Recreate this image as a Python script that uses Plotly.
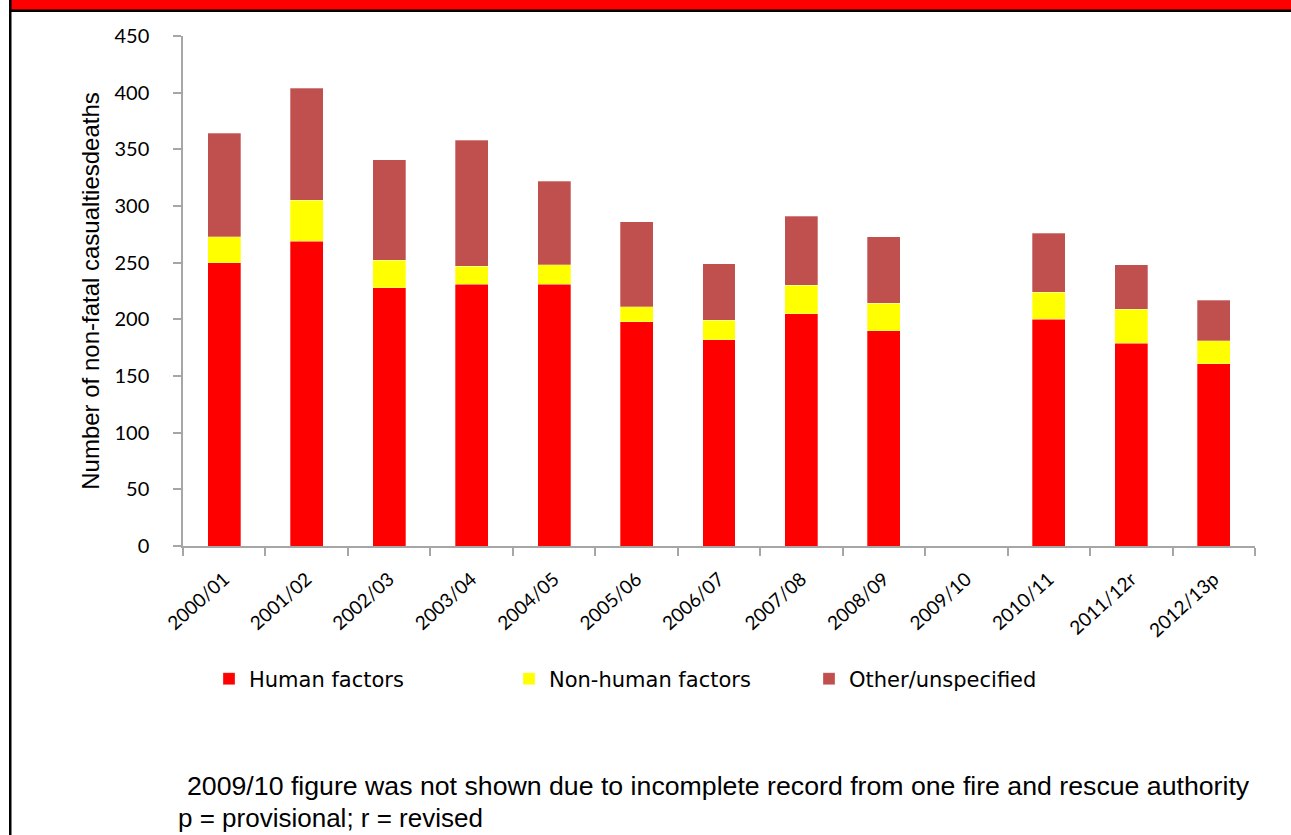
import plotly.graph_objects as go

categories = ["2000/01", "2001/02", "2002/03", "2003/04", "2004/05", "2005/06",
              "2006/07", "2007/08", "2008/09", "2009/10", "2010/11", "2011/12r", "2012/13p"]
human = [250, 269, 228, 231, 231, 198, 182, 205, 190, None, 200, 179, 161]
non_human = [23, 36, 24, 16, 17, 13, 17, 25, 24, None, 24, 30, 20]
other = [91, 99, 89, 111, 74, 75, 50, 61, 59, None, 52, 39, 36]

series_names = ["Human factors", "Non-human factors", "Other/unspecified"]
series_colors = ["#FF0000", "#FFFF00", "#C0504D"]
y_ticks = [0, 50, 100, 150, 200, 250, 300, 350, 400, 450]

W, H = 1291, 835
L, R, T, B = 183, 1255, 36, 546


def px_x(px):
    return (px - L) / (R - L)


def px_y(py):
    return (B - py) / (B - T)


fig = go.Figure()
for name, vals, col in zip(series_names, [human, non_human, other], series_colors):
    fig.add_trace(go.Bar(
        x=categories, y=vals, name=name,
        marker=dict(color=col, line=dict(color="rgba(255,255,255,0.5)", width=0.6)),
    ))

fig.update_layout(
    width=W, height=H,
    barmode="stack", bargap=0.6,
    paper_bgcolor="white", plot_bgcolor="white",
    margin=dict(l=L, r=W - R, t=T, b=H - B, autoexpand=False),
    showlegend=True,
    legend=dict(
        orientation="h", x=px_x(209), xanchor="left", y=px_y(679), yanchor="middle",
        font=dict(family="DejaVu Sans, Liberation Sans, Arial", size=21, color="black"),
        entrywidth=255, entrywidthmode="pixels", itemwidth=30,
        traceorder="normal",
    ),
    xaxis=dict(
        type="category", showgrid=False, showline=True, linecolor="#A6A6A6", linewidth=1.5,
        ticks="outside", tickson="boundaries", ticklen=8, tickcolor="#A6A6A6", tickwidth=1.5,
        ticklabelstandoff=13,
        tickangle=-42, tickfont=dict(family="Lato, Open Sans", size=19, color="black"),
        range=[-0.5, len(categories) - 0.5],
    ),
    yaxis=dict(
        range=[0, 450], tickvals=y_ticks, showgrid=False, zeroline=False,
        showline=True, linecolor="#A6A6A6", linewidth=1.5,
        ticks="outside", ticklen=8, tickcolor="#A6A6A6", tickwidth=1.5,
        ticklabelstandoff=20,
        tickfont=dict(family="Lato, Open Sans", size=20, color="black"),
        title=dict(text="Number of non-fatal casualtiesdeaths",
                   font=dict(family="Liberation Sans Narrow, Liberation Sans, Arial", size=24, color="black"),
                   standoff=8),
    ),
    font=dict(family="Liberation Sans, Arial"),
)

# frame decorations: red band, black rule, left border
fig.add_shape(type="rect", xref="paper", yref="paper",
              x0=px_x(11), x1=px_x(W + 5), y0=px_y(10), y1=px_y(-5),
              fillcolor="#FF0000", line=dict(width=0), layer="above")
fig.add_shape(type="rect", xref="paper", yref="paper",
              x0=px_x(9), x1=px_x(W + 5), y0=px_y(12), y1=px_y(9.5),
              fillcolor="black", line=dict(width=0), layer="above")
fig.add_shape(type="rect", xref="paper", yref="paper",
              x0=px_x(9), x1=px_x(11.5), y0=px_y(H + 5), y1=px_y(-5),
              fillcolor="black", line=dict(width=0), layer="above")

fig.add_annotation(xref="paper", yref="paper", x=px_x(185), y=px_y(786),
                   xanchor="left", yanchor="middle", showarrow=False,
                   text="2009/10 figure was not shown due to incomplete record from one fire and rescue authority",
                   font=dict(family="Liberation Sans, Arial", size=26.7, color="black"))
fig.add_annotation(xref="paper", yref="paper", x=px_x(176), y=px_y(818),
                   xanchor="left", yanchor="middle", showarrow=False,
                   text="p = provisional; r = revised",
                   font=dict(family="Liberation Sans, Arial", size=26, color="black"))

fig.write_html("out.html", config={"displayModeBar": False},
               post_script="document.body.style.margin='0';document.body.style.overflow='hidden';")
